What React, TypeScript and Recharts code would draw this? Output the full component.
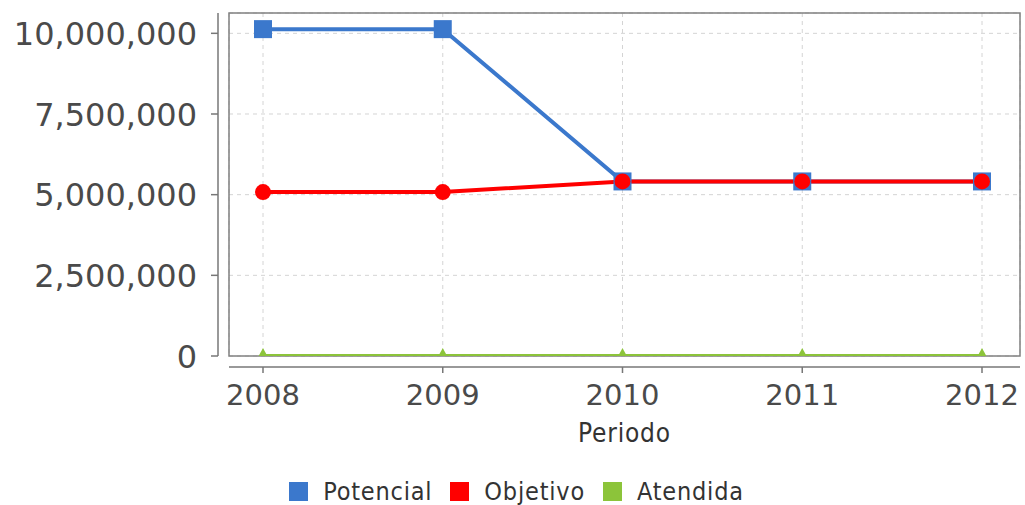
import React from 'react';
import { LineChart, Line, XAxis, YAxis, CartesianGrid, Legend, Customized } from 'recharts';

const years = ['2008', '2009', '2010', '2011', '2012'];
const potencial = [10130000, 10130000, 5410000, 5410000, 5410000];
const objetivo = [5080000, 5080000, 5410000, 5410000, 5410000];
const atendida = [0, 0, 0, 0, 0];
const yTicks = [0, 2500000, 5000000, 7500000, 10000000];

const seriesInfo = [
  { key: 'potencial', name: 'Potencial', color: '#3b78cc' },
  { key: 'objetivo', name: 'Objetivo', color: '#ff0000' },
  { key: 'atendida', name: 'Atendida', color: '#8cc43a' }
];

const data = years.map((y, i) => ({
  year: y,
  potencial: potencial[i],
  objetivo: objetivo[i],
  atendida: atendida[i]
}));

const W = 1025;
const H = 505;
const MARGIN = { top: 13, right: 5, left: 0, bottom: 0 };
const Y_AXIS_W = 229;
const X_AXIS_H = 95;
const LEGEND_H = 54;
const AXIS_GAP = 11;

const PLOT_LEFT = MARGIN.left + Y_AXIS_W;
const PLOT_RIGHT = W - MARGIN.right;
const PLOT_TOP = MARGIN.top;
const PLOT_BOTTOM = H - MARGIN.bottom - LEGEND_H - X_AXIS_H;

const SANS = "'DejaVu Sans', sans-serif";
const COND = "'DejaVu Sans Condensed', 'DejaVu Sans', sans-serif";

const YTick = ({ y, payload }: any) => {
  const ax = PLOT_LEFT - AXIS_GAP;
  return (
    <g>
      <line x1={ax - 7} x2={ax} y1={y} y2={y} stroke="#777" strokeWidth={1.5} />
      <text x={ax - 21} y={y} dy="0.36em" textAnchor="end" fontFamily={SANS} fontSize={32} fill="#4a4a4a">
        {Number(payload.value).toLocaleString('en-US')}
      </text>
    </g>
  );
};

const XTick = ({ x, payload }: any) => {
  const ay = PLOT_BOTTOM + AXIS_GAP;
  return (
    <g>
      <line x1={x} x2={x} y1={ay} y2={ay + 6} stroke="#777" strokeWidth={1.5} />
      <text x={x} y={ay + 38} textAnchor="middle" fontFamily={SANS} fontSize={29} fill="#4a4a4a">
        {payload.value}
      </text>
    </g>
  );
};

// frame of the plot + the offset axis lines (JFreeChart style)
const Frame = () => (
  <g>
    <rect
      x={PLOT_LEFT}
      y={PLOT_TOP}
      width={PLOT_RIGHT - PLOT_LEFT}
      height={PLOT_BOTTOM - PLOT_TOP}
      fill="none"
      stroke="#808080"
      strokeWidth={1.5}
    />
    <line x1={PLOT_LEFT - AXIS_GAP} x2={PLOT_LEFT - AXIS_GAP} y1={PLOT_TOP} y2={PLOT_BOTTOM} stroke="#777" strokeWidth={1.5} />
    <line x1={PLOT_LEFT} x2={PLOT_RIGHT} y1={PLOT_BOTTOM + AXIS_GAP} y2={PLOT_BOTTOM + AXIS_GAP} stroke="#777" strokeWidth={1.5} />
  </g>
);

const SquareDot = (props: any) => {
  const { cx, cy, index } = props;
  if (cx == null || cy == null) return <g key={index} />;
  return <rect key={index} x={cx - 9} y={cy - 9} width={18} height={18} fill="#3b78cc" />;
};

const TriangleDot = (props: any) => {
  const { cx, cy, index } = props;
  if (cx == null || cy == null) return <g key={index} />;
  return <polygon key={index} points={`${cx},${cy - 8} ${cx + 6},${cy + 3} ${cx - 6},${cy + 3}`} fill="#8cc43a" />;
};

const LegendContent = () => (
  <div
    style={{
      display: 'flex',
      justifyContent: 'center',
      alignItems: 'center',
      paddingTop: 27,
      paddingLeft: 26,
      height: LEGEND_H - 27,
      boxSizing: 'content-box'
    }}
  >
    {seriesInfo.map((s) => (
      <div key={s.key} style={{ display: 'flex', alignItems: 'center', marginRight: 18 }}>
        <span style={{ width: 19, height: 19, background: s.color, display: 'inline-block', marginRight: 15 }} />
        <span style={{ fontFamily: COND, fontSize: 25, color: '#333', lineHeight: '20px', letterSpacing: 0.8 }}>
          {s.name}
        </span>
      </div>
    ))}
  </div>
);

export default function App() {
  return (
    <div style={{ position: 'absolute', left: 0, top: 0, width: W, height: H, background: '#fff' }}>
      <LineChart width={W} height={H} data={data} margin={MARGIN}>
        <CartesianGrid stroke="#d4d4d4" strokeDasharray="4 4" strokeWidth={1} />
        <XAxis
          dataKey="year"
          height={X_AXIS_H}
          axisLine={false}
          tickLine={false}
          tick={<XTick />}
          padding={{ left: 34, right: 38 }}
          label={{
            value: 'Periodo',
            position: 'insideBottom',
            offset: 9,
            fontFamily: COND,
            fontSize: 26,
            fill: '#333',
            letterSpacing: 0.8
          }}
        />
        <YAxis
          width={Y_AXIS_W}
          domain={[0, 10630000]}
          ticks={yTicks}
          axisLine={false}
          tickLine={false}
          tick={<YTick />}
          allowDataOverflow
        />
        <Legend verticalAlign="bottom" height={LEGEND_H} content={<LegendContent />} wrapperStyle={{ left: 0, width: W }} />
        <Customized component={<Frame />} />
        {seriesInfo.map((s) => (
          <Line
            key={s.key}
            dataKey={s.key}
            name={s.name}
            type="linear"
            stroke={s.color}
            strokeWidth={4}
            isAnimationActive={false}
            dot={
              s.key === 'potencial'
                ? SquareDot
                : s.key === 'atendida'
                ? TriangleDot
                : { r: 8, fill: '#ff0000', stroke: 'none' }
            }
            activeDot={false}
          />
        ))}
      </LineChart>
    </div>
  );
}
